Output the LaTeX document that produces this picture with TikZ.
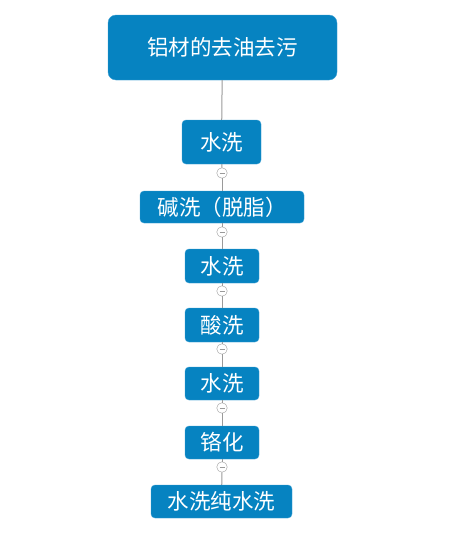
\documentclass[tikz,border=0pt]{standalone}
\usepackage{fontspec}
\setmainfont{Noto Sans CJK SC}
\usetikzlibrary{positioning}
\definecolor{stepblue}{HTML}{0683C1}
\definecolor{stepedge}{HTML}{3C9FD3}
\definecolor{linkgray}{HTML}{9A9A9A}

\begin{document}
\begin{tikzpicture}[x=1pt, y=-1pt]
  \tikzstyle{root}=[rectangle, rounded corners=8pt, fill=stepblue, draw=stepedge, text=white, inner sep=0pt, minimum width=229pt, minimum height=65pt, font=\fontsize{21.5}{24}\selectfont]
  \tikzstyle{task}=[rectangle, rounded corners=4pt, fill=stepblue, draw=stepedge, text=white, inner sep=0pt, minimum width=74pt, minimum height=34pt, font=\fontsize{21.5}{24}\selectfont]
  \tikzstyle{fold}=[circle, draw=linkgray, fill=white, inner sep=0pt, minimum size=10.5pt,
    path picture={\draw[linkgray] ([xshift=-2.5pt]path picture bounding box.center) -- ([xshift=2.5pt]path picture bounding box.center);}]
  \tikzstyle{link}=[draw=linkgray, line width=1pt]
  \useasboundingbox (0,0) rectangle (453,533);
  \node [root] at (222.5,47.5) (clean) {铝材的去油去污};
  \node [task, minimum width=79pt, minimum height=44pt] at (221.5,142) (rinse1) {水洗};
  \node [fold] at (222,173) (fold1) {};
  \node [task, minimum width=164pt, minimum height=32pt] at (222,207) (degrease) {碱洗（脱脂）};
  \node [fold] at (222,232) (fold2) {};
  \node [task] at (222,266) (rinse2) {水洗};
  \node [fold] at (222,291) (fold3) {};
  \node [task] at (222,325) (pickle) {酸洗};
  \node [fold] at (222,349) (fold4) {};
  \node [task, minimum height=33pt] at (222,383.5) (rinse3) {水洗};
  \node [fold] at (222,408) (fold5) {};
  \node [task, minimum height=33pt] at (222,442.5) (chromate) {铬化};
  \node [fold] at (222,467) (fold6) {};
  \node [task, minimum width=141pt, minimum height=33pt] at (221.5,501.5) (pure) {水洗纯水洗};
  \draw[link] (clean) -- (rinse1);
  \draw[link] (rinse1) -- (fold1);
  \draw[link] (fold1) -- (degrease);
  \draw[link] (degrease) -- (fold2);
  \draw[link] (fold2) -- (rinse2);
  \draw[link] (rinse2) -- (fold3);
  \draw[link] (fold3) -- (pickle);
  \draw[link] (pickle) -- (fold4);
  \draw[link] (fold4) -- (rinse3);
  \draw[link] (rinse3) -- (fold5);
  \draw[link] (fold5) -- (chromate);
  \draw[link] (chromate) -- (fold6);
  \draw[link] (fold6) -- (pure);
\end{tikzpicture}
\end{document}
